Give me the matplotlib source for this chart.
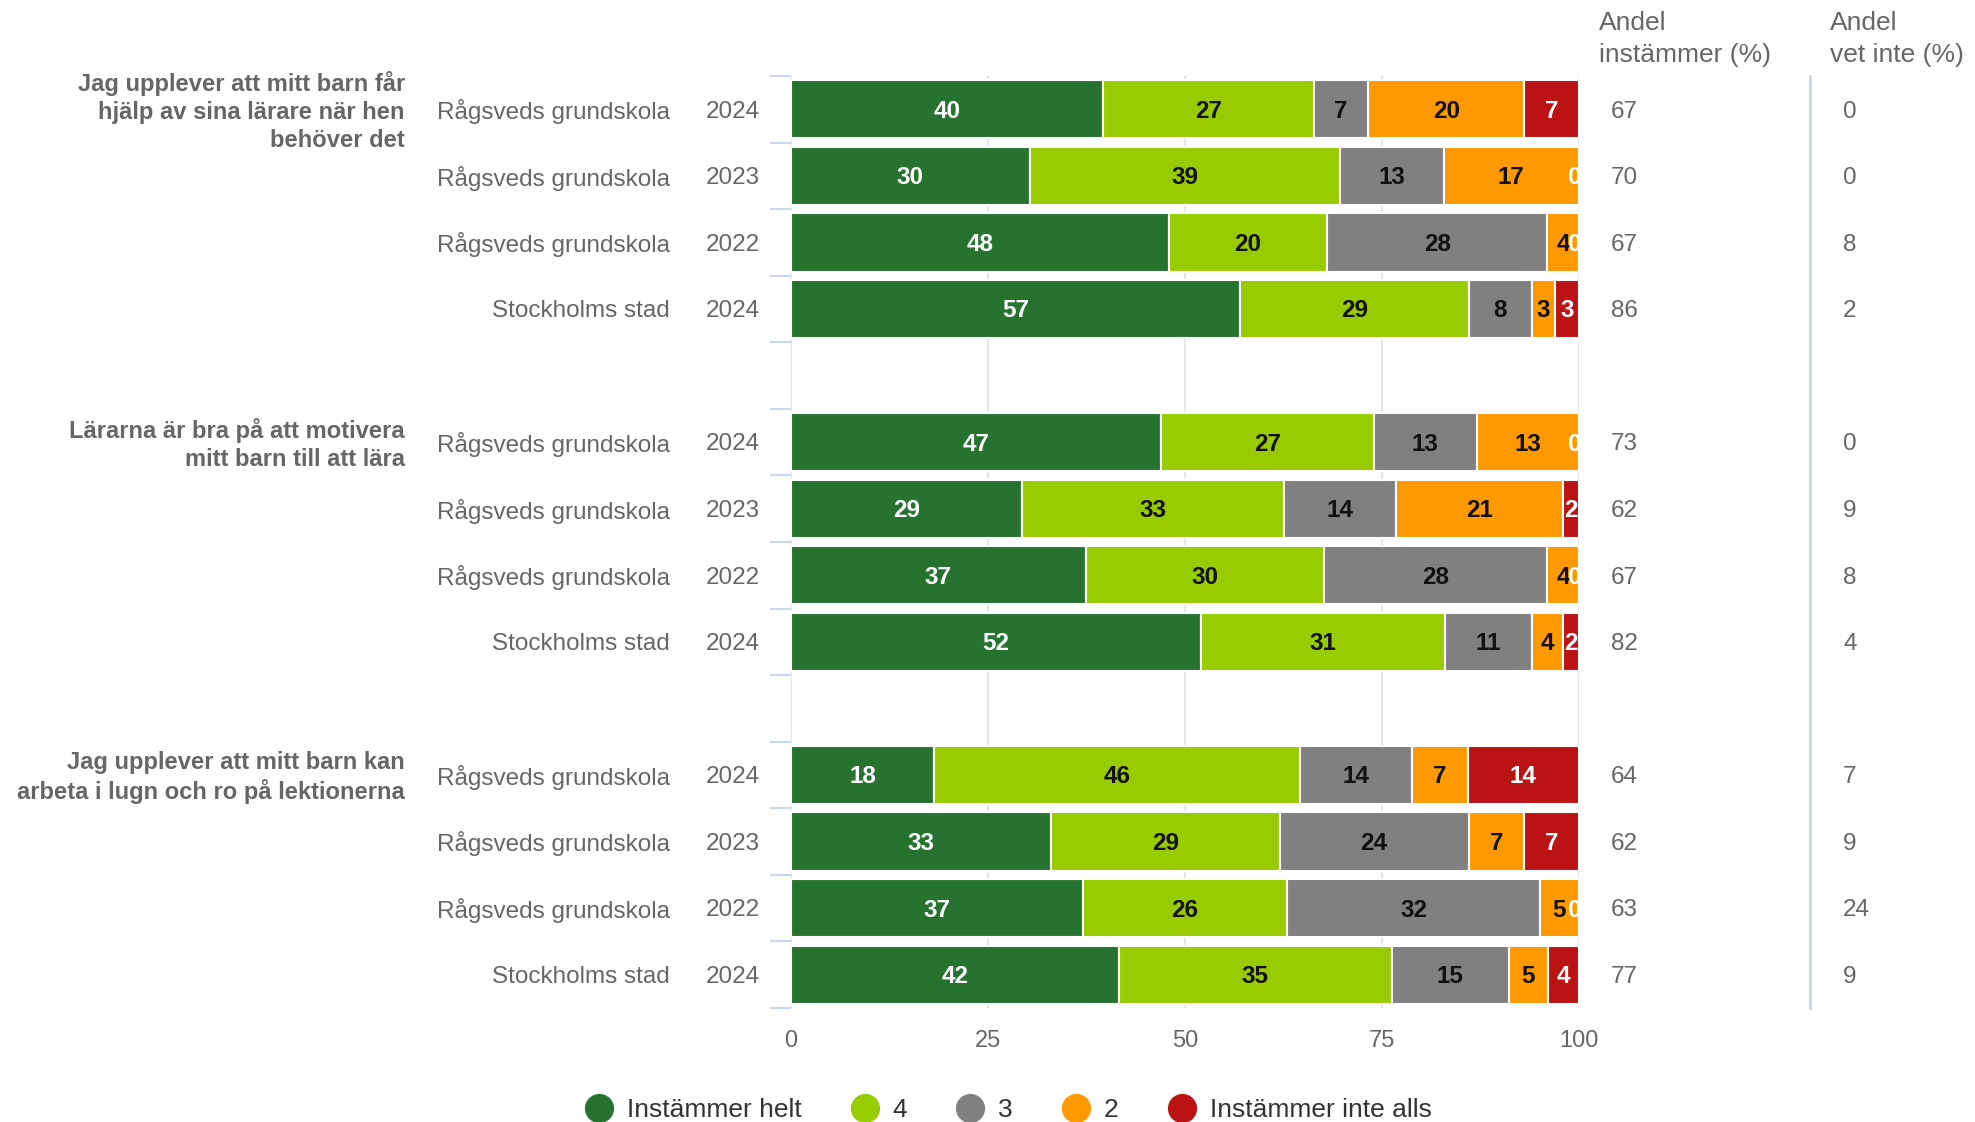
import matplotlib
matplotlib.use("Agg")
import matplotlib.pyplot as plt
from matplotlib.transforms import blended_transform_factory
from matplotlib.lines import Line2D
import numpy as np

plt.rcParams['font.family'] = ['Liberation Sans', 'DejaVu Sans']

questions = [
    "Jag upplever att mitt barn får\nhjälp av sina lärare när hen\nbehöver det",
    "Lärarna är bra på att motivera\nmitt barn till att lära",
    "Jag upplever att mitt barn kan\narbeta i lugn och ro på lektionerna",
]
units = ["Rågsveds grundskola", "Rågsveds grundskola", "Rågsveds grundskola", "Stockholms stad"]
years = ["2024", "2023", "2022", "2024"]

series_names = ["Instämmer helt", "4", "3", "2", "Instämmer inte alls"]
series_colors = ["#267330", "#99cc00", "#808080", "#ff9900", "#bb1313"]
label_colors = ["white", "#111111", "#111111", "#111111", "white"]

# values per question: rows = units/years, columns = series
q1 = [[40, 27, 7, 20, 7],
      [30, 39, 13, 17, 0],
      [48, 20, 28, 4, 0],
      [57, 29, 8, 3, 3]]
q2 = [[47, 27, 13, 13, 0],
      [29, 33, 14, 21, 2],
      [37, 30, 28, 4, 0],
      [52, 31, 11, 4, 2]]
q3 = [[18, 46, 14, 7, 14],
      [33, 29, 24, 7, 7],
      [37, 26, 32, 5, 0],
      [42, 35, 15, 5, 4]]
values = [q1, q2, q3]

andel_instammer = [[67, 70, 67, 86], [73, 62, 67, 82], [64, 62, 63, 77]]
andel_vet_inte = [[0, 0, 8, 2], [0, 9, 8, 4], [7, 9, 24, 9]]

W, H = 1975, 1122
fig = plt.figure(figsize=(W / 100, H / 100), dpi=100)
AX_L, AX_R, AX_T, AX_B = 791, 1579, 76, 1008
ax = fig.add_axes([AX_L / W, 1 - AX_B / H, (AX_R - AX_L) / W, (AX_B - AX_T) / H])

nslots = len(questions) * 5 - 1
ax.set_ylim(nslots - 0.5, -0.5)
ax.set_xlim(0, 100)

txt_gray = "#666666"
fx = blended_transform_factory(fig.transFigure, ax.transData)
dy = 0.035

for g, qv in enumerate(values):
    for r, row in enumerate(qv):
        y = g * 5 + r
        total = float(sum(row))
        left = 0.0
        for s, v in enumerate(row):
            w = v / total * 100
            ax.barh(y, w, left=left, height=0.875, color=series_colors[s],
                    edgecolor="white", linewidth=1.5, zorder=3)
            xc = left + w / 2 if v > 0 else min(left, 99.4)
            ax.text(xc, y + 0.03, str(v), ha="center", va="center",
                    fontsize=17.5, fontweight="bold", color=label_colors[s],
                    zorder=5, clip_on=True)
            left += w
        ax.text(670 / W, y + dy, units[r], transform=fx, ha="right", va="center",
                fontsize=17.5, color=txt_gray)
        ax.text(760 / W, y + dy, years[r], transform=fx, ha="right", va="center",
                fontsize=17.5, color=txt_gray)
        ax.text(1611 / W, y + dy, str(andel_instammer[g][r]), transform=fx, ha="left",
                va="center", fontsize=17.5, color=txt_gray)
        ax.text(1843 / W, y + dy, str(andel_vet_inte[g][r]), transform=fx, ha="left",
                va="center", fontsize=17.5, color=txt_gray)
    ax.text(405 / W, g * 5 + dy, questions[g], transform=fx, ha="right", va="center",
            fontsize=17.1, fontweight="bold", color=txt_gray, linespacing=1.28,
            multialignment="right")

# headers
fig.text(1599 / W, 1 - 39 / H, "Andel\ninstämmer (%)", ha="left", va="center",
         fontsize=19, color=txt_gray, linespacing=1.45)
fig.text(1830 / W, 1 - 39 / H, "Andel\nvet inte (%)", ha="left", va="center",
         fontsize=19, color=txt_gray, linespacing=1.45)

# separator line
fig.add_artist(Line2D([1810 / W, 1810 / W], [1 - AX_B / H, 1 - AX_T / H],
                      transform=fig.transFigure, color="#ccd6eb", linewidth=2))

# axes styling
for sp in ax.spines.values():
    sp.set_visible(False)
ax.set_xticks([0, 25, 50, 75, 100])
ax.set_xticklabels(["0", "25", "50", "75", "100"])
ax.tick_params(axis="x", length=0, pad=16, labelsize=17, labelcolor=txt_gray)
ax.grid(axis="x", color="#e6e6e6", linewidth=1.5, zorder=0)
ax.set_axisbelow(True)
ax.set_yticks(np.arange(-0.5, nslots, 1.0))
ax.set_yticklabels([])
ax.tick_params(axis="y", length=15, width=1.5, color="#ccd6eb")

# legend
handles = [Line2D([0], [0], marker="o", linestyle="none", markersize=20,
                  markerfacecolor=c, markeredgecolor=c) for c in series_colors]
fig.legend(handles, series_names, loc="center", bbox_to_anchor=(0.5105, 0.0107),
           ncol=5, frameon=False, fontsize=19, handlelength=1.06,
           handletextpad=0.53, columnspacing=1.86, labelcolor="#333333")

fig.savefig("out.png", dpi=100, facecolor="white")
